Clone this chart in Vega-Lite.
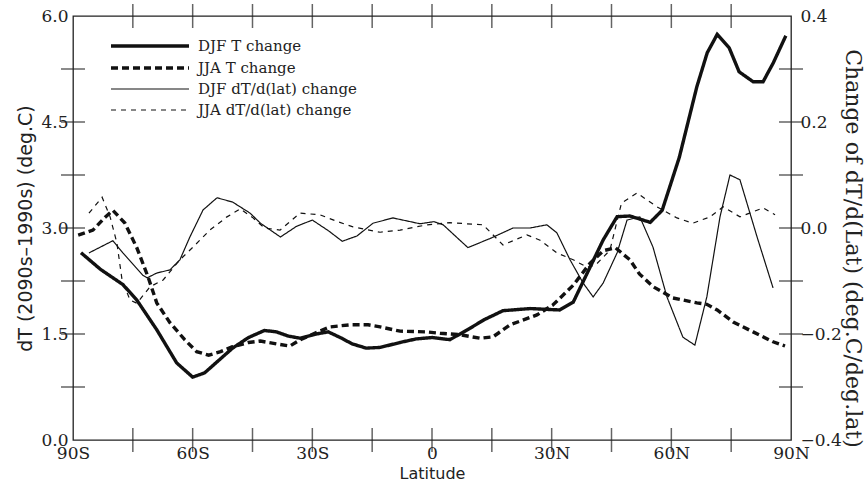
{
  "$schema": "https://vega.github.io/schema/vega-lite/v6.json",
  "width": 718,
  "height": 424,
  "autosize": {"type": "none"},
  "padding": {"left": 73, "top": 16, "right": 75, "bottom": 48},
  "background": "white",
  "config": {
    "view": {"stroke": "#222", "strokeWidth": 1.3},
    "axis": {
      "grid": false,
      "domain": false,
      "labelColor": "#222",
      "labelFont": "DejaVu Serif",
      "labelFontSize": 17,
      "titleColor": "#222",
      "titleFontWeight": "normal"
    }
  },
  "datasets": {
    "xticks": [
      {"lat": -75}, {"lat": -60}, {"lat": -45}, {"lat": -30}, {"lat": -15}, {"lat": 0},
      {"lat": 15}, {"lat": 30}, {"lat": 45}, {"lat": 60}, {"lat": 75}
    ],
    "yticks": [
      {"level": 0.75}, {"level": 1.5}, {"level": 2.25}, {"level": 3}, {"level": 3.75},
      {"level": 4.5}, {"level": 5.25}
    ],
    "temp": [
      {"lat": -88, "value": 2.65, "series": "DJF T change"},
      {"lat": -83, "value": 2.41, "series": "DJF T change"},
      {"lat": -77.5, "value": 2.2, "series": "DJF T change"},
      {"lat": -74, "value": 1.98, "series": "DJF T change"},
      {"lat": -69, "value": 1.56, "series": "DJF T change"},
      {"lat": -64, "value": 1.09, "series": "DJF T change"},
      {"lat": -60, "value": 0.89, "series": "DJF T change"},
      {"lat": -57, "value": 0.95, "series": "DJF T change"},
      {"lat": -53, "value": 1.15, "series": "DJF T change"},
      {"lat": -50, "value": 1.3, "series": "DJF T change"},
      {"lat": -46, "value": 1.45, "series": "DJF T change"},
      {"lat": -42, "value": 1.55, "series": "DJF T change"},
      {"lat": -39, "value": 1.53, "series": "DJF T change"},
      {"lat": -36, "value": 1.47, "series": "DJF T change"},
      {"lat": -33, "value": 1.44, "series": "DJF T change"},
      {"lat": -29, "value": 1.5, "series": "DJF T change"},
      {"lat": -26, "value": 1.53, "series": "DJF T change"},
      {"lat": -23, "value": 1.45, "series": "DJF T change"},
      {"lat": -20, "value": 1.36, "series": "DJF T change"},
      {"lat": -16.5, "value": 1.3, "series": "DJF T change"},
      {"lat": -13, "value": 1.31, "series": "DJF T change"},
      {"lat": -8, "value": 1.38, "series": "DJF T change"},
      {"lat": -4, "value": 1.43, "series": "DJF T change"},
      {"lat": 0, "value": 1.45, "series": "DJF T change"},
      {"lat": 4.5, "value": 1.42, "series": "DJF T change"},
      {"lat": 9.5, "value": 1.58, "series": "DJF T change"},
      {"lat": 13, "value": 1.7, "series": "DJF T change"},
      {"lat": 17.8, "value": 1.83, "series": "DJF T change"},
      {"lat": 24.6, "value": 1.86, "series": "DJF T change"},
      {"lat": 32, "value": 1.84, "series": "DJF T change"},
      {"lat": 35.4, "value": 1.95, "series": "DJF T change"},
      {"lat": 38.9, "value": 2.36, "series": "DJF T change"},
      {"lat": 42.9, "value": 2.83, "series": "DJF T change"},
      {"lat": 46.4, "value": 3.16, "series": "DJF T change"},
      {"lat": 49.6, "value": 3.17, "series": "DJF T change"},
      {"lat": 54.7, "value": 3.08, "series": "DJF T change"},
      {"lat": 57.7, "value": 3.25, "series": "DJF T change"},
      {"lat": 62, "value": 4.0, "series": "DJF T change"},
      {"lat": 66.4, "value": 5.0, "series": "DJF T change"},
      {"lat": 69, "value": 5.48, "series": "DJF T change"},
      {"lat": 71.5, "value": 5.74, "series": "DJF T change"},
      {"lat": 74.5, "value": 5.55, "series": "DJF T change"},
      {"lat": 77, "value": 5.21, "series": "DJF T change"},
      {"lat": 80.5, "value": 5.07, "series": "DJF T change"},
      {"lat": 83, "value": 5.07, "series": "DJF T change"},
      {"lat": 85.5, "value": 5.33, "series": "DJF T change"},
      {"lat": 88.7, "value": 5.72, "series": "DJF T change"},

      {"lat": -88.7, "value": 2.9, "series": "JJA T change"},
      {"lat": -85, "value": 2.97, "series": "JJA T change"},
      {"lat": -82, "value": 3.15, "series": "JJA T change"},
      {"lat": -80, "value": 3.25, "series": "JJA T change"},
      {"lat": -77, "value": 3.07, "series": "JJA T change"},
      {"lat": -74, "value": 2.72, "series": "JJA T change"},
      {"lat": -71.2, "value": 2.31, "series": "JJA T change"},
      {"lat": -69, "value": 1.94, "series": "JJA T change"},
      {"lat": -65.7, "value": 1.66, "series": "JJA T change"},
      {"lat": -62, "value": 1.42, "series": "JJA T change"},
      {"lat": -59, "value": 1.25, "series": "JJA T change"},
      {"lat": -56, "value": 1.2, "series": "JJA T change"},
      {"lat": -53, "value": 1.25, "series": "JJA T change"},
      {"lat": -50, "value": 1.32, "series": "JJA T change"},
      {"lat": -46, "value": 1.38, "series": "JJA T change"},
      {"lat": -43, "value": 1.4, "series": "JJA T change"},
      {"lat": -39, "value": 1.36, "series": "JJA T change"},
      {"lat": -35.6, "value": 1.33, "series": "JJA T change"},
      {"lat": -33, "value": 1.42, "series": "JJA T change"},
      {"lat": -29, "value": 1.52, "series": "JJA T change"},
      {"lat": -25.6, "value": 1.6, "series": "JJA T change"},
      {"lat": -20.6, "value": 1.63, "series": "JJA T change"},
      {"lat": -16, "value": 1.63, "series": "JJA T change"},
      {"lat": -13, "value": 1.6, "series": "JJA T change"},
      {"lat": -8, "value": 1.54, "series": "JJA T change"},
      {"lat": -1.3, "value": 1.53, "series": "JJA T change"},
      {"lat": 2, "value": 1.51, "series": "JJA T change"},
      {"lat": 7, "value": 1.49, "series": "JJA T change"},
      {"lat": 12, "value": 1.44, "series": "JJA T change"},
      {"lat": 15.3, "value": 1.46, "series": "JJA T change"},
      {"lat": 19.6, "value": 1.63, "series": "JJA T change"},
      {"lat": 26.3, "value": 1.77, "series": "JJA T change"},
      {"lat": 30.3, "value": 1.91, "series": "JJA T change"},
      {"lat": 35.4, "value": 2.19, "series": "JJA T change"},
      {"lat": 39.6, "value": 2.5, "series": "JJA T change"},
      {"lat": 43, "value": 2.68, "series": "JJA T change"},
      {"lat": 46, "value": 2.72, "series": "JJA T change"},
      {"lat": 49.6, "value": 2.55, "series": "JJA T change"},
      {"lat": 52, "value": 2.35, "series": "JJA T change"},
      {"lat": 55.4, "value": 2.17, "series": "JJA T change"},
      {"lat": 60.4, "value": 2.01, "series": "JJA T change"},
      {"lat": 66.4, "value": 1.94, "series": "JJA T change"},
      {"lat": 68.9, "value": 1.92, "series": "JJA T change"},
      {"lat": 71.5, "value": 1.84, "series": "JJA T change"},
      {"lat": 75.5, "value": 1.67, "series": "JJA T change"},
      {"lat": 80.5, "value": 1.53, "series": "JJA T change"},
      {"lat": 85.5, "value": 1.39, "series": "JJA T change"},
      {"lat": 88.5, "value": 1.33, "series": "JJA T change"}
    ],
    "grad": [
      {"lat": -86, "value": -0.047, "series": "DJF dT/d(lat) change"},
      {"lat": -80, "value": -0.024, "series": "DJF dT/d(lat) change"},
      {"lat": -77.5, "value": -0.047, "series": "DJF dT/d(lat) change"},
      {"lat": -72.5, "value": -0.089, "series": "DJF dT/d(lat) change"},
      {"lat": -71.4, "value": -0.094, "series": "DJF dT/d(lat) change"},
      {"lat": -69, "value": -0.085, "series": "DJF dT/d(lat) change"},
      {"lat": -65.7, "value": -0.079, "series": "DJF dT/d(lat) change"},
      {"lat": -63.2, "value": -0.06, "series": "DJF dT/d(lat) change"},
      {"lat": -60.7, "value": -0.017, "series": "DJF dT/d(lat) change"},
      {"lat": -57.4, "value": 0.034, "series": "DJF dT/d(lat) change"},
      {"lat": -53.9, "value": 0.057, "series": "DJF dT/d(lat) change"},
      {"lat": -50, "value": 0.049, "series": "DJF dT/d(lat) change"},
      {"lat": -45.6, "value": 0.028, "series": "DJF dT/d(lat) change"},
      {"lat": -43, "value": 0.009, "series": "DJF dT/d(lat) change"},
      {"lat": -38, "value": -0.017, "series": "DJF dT/d(lat) change"},
      {"lat": -34, "value": 0.003, "series": "DJF dT/d(lat) change"},
      {"lat": -30, "value": 0.015, "series": "DJF dT/d(lat) change"},
      {"lat": -26, "value": -0.005, "series": "DJF dT/d(lat) change"},
      {"lat": -22.5, "value": -0.025, "series": "DJF dT/d(lat) change"},
      {"lat": -18.8, "value": -0.015, "series": "DJF dT/d(lat) change"},
      {"lat": -14.8, "value": 0.009, "series": "DJF dT/d(lat) change"},
      {"lat": -9.8, "value": 0.019, "series": "DJF dT/d(lat) change"},
      {"lat": -3, "value": 0.008, "series": "DJF dT/d(lat) change"},
      {"lat": 0.5, "value": 0.012, "series": "DJF dT/d(lat) change"},
      {"lat": 2.8, "value": 0.006, "series": "DJF dT/d(lat) change"},
      {"lat": 9, "value": -0.037, "series": "DJF dT/d(lat) change"},
      {"lat": 14.5, "value": -0.02, "series": "DJF dT/d(lat) change"},
      {"lat": 20.3, "value": 0.0, "series": "DJF dT/d(lat) change"},
      {"lat": 24.6, "value": 0.0, "series": "DJF dT/d(lat) change"},
      {"lat": 28.8, "value": 0.006, "series": "DJF dT/d(lat) change"},
      {"lat": 31.3, "value": -0.009, "series": "DJF dT/d(lat) change"},
      {"lat": 34.6, "value": -0.06, "series": "DJF dT/d(lat) change"},
      {"lat": 37.9, "value": -0.104, "series": "DJF dT/d(lat) change"},
      {"lat": 40.4, "value": -0.13, "series": "DJF dT/d(lat) change"},
      {"lat": 42.9, "value": -0.104, "series": "DJF dT/d(lat) change"},
      {"lat": 46.4, "value": -0.047, "series": "DJF dT/d(lat) change"},
      {"lat": 48.9, "value": 0.015, "series": "DJF dT/d(lat) change"},
      {"lat": 52.1, "value": 0.021, "series": "DJF dT/d(lat) change"},
      {"lat": 55.4, "value": -0.036, "series": "DJF dT/d(lat) change"},
      {"lat": 58.9, "value": -0.13, "series": "DJF dT/d(lat) change"},
      {"lat": 62.9, "value": -0.206, "series": "DJF dT/d(lat) change"},
      {"lat": 65.9, "value": -0.221, "series": "DJF dT/d(lat) change"},
      {"lat": 68.9, "value": -0.13, "series": "DJF dT/d(lat) change"},
      {"lat": 72.2, "value": 0.021, "series": "DJF dT/d(lat) change"},
      {"lat": 74.7, "value": 0.1, "series": "DJF dT/d(lat) change"},
      {"lat": 77.2, "value": 0.091, "series": "DJF dT/d(lat) change"},
      {"lat": 81.5, "value": -0.017, "series": "DJF dT/d(lat) change"},
      {"lat": 85.5, "value": -0.113, "series": "DJF dT/d(lat) change"},

      {"lat": -86, "value": 0.028, "series": "JJA dT/d(lat) change"},
      {"lat": -82.7, "value": 0.058, "series": "JJA dT/d(lat) change"},
      {"lat": -80.7, "value": 0.021, "series": "JJA dT/d(lat) change"},
      {"lat": -79, "value": -0.028, "series": "JJA dT/d(lat) change"},
      {"lat": -77.7, "value": -0.098, "series": "JJA dT/d(lat) change"},
      {"lat": -75.7, "value": -0.136, "series": "JJA dT/d(lat) change"},
      {"lat": -74, "value": -0.142, "series": "JJA dT/d(lat) change"},
      {"lat": -70.7, "value": -0.111, "series": "JJA dT/d(lat) change"},
      {"lat": -67.4, "value": -0.098, "series": "JJA dT/d(lat) change"},
      {"lat": -63.2, "value": -0.06, "series": "JJA dT/d(lat) change"},
      {"lat": -59.9, "value": -0.036, "series": "JJA dT/d(lat) change"},
      {"lat": -55.7, "value": -0.004, "series": "JJA dT/d(lat) change"},
      {"lat": -51.4, "value": 0.021, "series": "JJA dT/d(lat) change"},
      {"lat": -48.1, "value": 0.036, "series": "JJA dT/d(lat) change"},
      {"lat": -45, "value": 0.02, "series": "JJA dT/d(lat) change"},
      {"lat": -42, "value": 0.0, "series": "JJA dT/d(lat) change"},
      {"lat": -38.1, "value": -0.004, "series": "JJA dT/d(lat) change"},
      {"lat": -33.1, "value": 0.028, "series": "JJA dT/d(lat) change"},
      {"lat": -28.1, "value": 0.025, "series": "JJA dT/d(lat) change"},
      {"lat": -24, "value": 0.013, "series": "JJA dT/d(lat) change"},
      {"lat": -19.8, "value": 0.002, "series": "JJA dT/d(lat) change"},
      {"lat": -13, "value": -0.008, "series": "JJA dT/d(lat) change"},
      {"lat": -8, "value": -0.004, "series": "JJA dT/d(lat) change"},
      {"lat": -1.3, "value": 0.006, "series": "JJA dT/d(lat) change"},
      {"lat": 4.5, "value": 0.01, "series": "JJA dT/d(lat) change"},
      {"lat": 12.8, "value": 0.006, "series": "JJA dT/d(lat) change"},
      {"lat": 17.8, "value": -0.032, "series": "JJA dT/d(lat) change"},
      {"lat": 23.8, "value": -0.013, "series": "JJA dT/d(lat) change"},
      {"lat": 27.1, "value": -0.023, "series": "JJA dT/d(lat) change"},
      {"lat": 31.3, "value": -0.047, "series": "JJA dT/d(lat) change"},
      {"lat": 35.4, "value": -0.06, "series": "JJA dT/d(lat) change"},
      {"lat": 38.9, "value": -0.074, "series": "JJA dT/d(lat) change"},
      {"lat": 41, "value": -0.07, "series": "JJA dT/d(lat) change"},
      {"lat": 44.6, "value": -0.042, "series": "JJA dT/d(lat) change"},
      {"lat": 47.5, "value": 0.047, "series": "JJA dT/d(lat) change"},
      {"lat": 51.4, "value": 0.066, "series": "JJA dT/d(lat) change"},
      {"lat": 56.4, "value": 0.04, "series": "JJA dT/d(lat) change"},
      {"lat": 61.4, "value": 0.019, "series": "JJA dT/d(lat) change"},
      {"lat": 65.4, "value": 0.009, "series": "JJA dT/d(lat) change"},
      {"lat": 69.7, "value": 0.021, "series": "JJA dT/d(lat) change"},
      {"lat": 73, "value": 0.04, "series": "JJA dT/d(lat) change"},
      {"lat": 77.2, "value": 0.021, "series": "JJA dT/d(lat) change"},
      {"lat": 83, "value": 0.038, "series": "JJA dT/d(lat) change"},
      {"lat": 86, "value": 0.025, "series": "JJA dT/d(lat) change"}
    ]
  },
  "layer": [
    {
      "data": {"name": "temp"},
      "mark": {"type": "line", "color": "#111", "clip": true},
      "encoding": {
        "x": {
          "field": "lat", "type": "quantitative",
          "scale": {"domain": [-90, 90], "nice": false, "zero": false},
          "axis": {
            "orient": "bottom",
            "values": [-90, -60, -30, 0, 30, 60, 90],
            "labelExpr": "datum.value === 0 ? '0' : (datum.value < 0 ? (-datum.value) + 'S' : datum.value + 'N')",
            "ticks": false,
            "labelPadding": 5,
            "labelFlush": false,
            "labelOverlap": false,
            "title": "Latitude",
            "titleFont": "DejaVu Sans",
            "titleFontSize": 16,
            "titlePadding": 4
          }
        },
        "y": {
          "field": "value", "type": "quantitative",
          "scale": {"domain": [0, 6], "nice": false},
          "axis": {
            "orient": "left",
            "values": [0, 1.5, 3, 4.5, 6],
            "format": ".1f",
            "ticks": false,
            "labelPadding": 5,
            "labelFlush": false,
            "labelOverlap": false,
            "title": "dT (2090s–1990s) (deg.C)",
            "titleFont": "DejaVu Sans",
            "titleFontSize": 19,
            "titlePadding": 5
          }
        },
        "strokeDash": {
          "field": "series", "type": "nominal",
          "scale": {
            "domain": ["DJF T change", "JJA T change", "DJF dT/d(lat) change", "JJA dT/d(lat) change"],
            "range": [[1, 0], [7, 4], [1, 0], [5, 5]]
          },
          "legend": {
            "orient": "none", "legendX": 65, "legendY": 18,
            "title": null,
            "symbolType": "M-3.9,0H3.9",
            "symbolSize": 400,
            "symbolStrokeColor": "#111",
            "padding": 0, "rowPadding": 2,
            "labelFont": "DejaVu Serif", "labelFontSize": 15, "labelColor": "#222",
            "labelOffset": 36,
            "encode": {
              "symbols": {
                "update": {
                  "strokeWidth": {"signal": "indexof(['DJF T change','JJA T change'], datum.value) >= 0 ? 3.4 : 1.2"}
                }
              }
            }
          }
        },
        "strokeWidth": {
          "field": "series", "type": "nominal",
          "scale": {
            "type": "ordinal",
            "domain": ["DJF T change", "JJA T change", "DJF dT/d(lat) change", "JJA dT/d(lat) change"],
            "range": [3.4, 3.4, 1.2, 1.2]
          },
          "legend": null
        }
      }
    },
    {
      "data": {"name": "grad"},
      "mark": {"type": "line", "color": "#111", "clip": true},
      "encoding": {
        "x": {
          "field": "lat", "type": "quantitative",
          "scale": {"domain": [-90, 90], "nice": false, "zero": false},
          "axis": null
        },
        "y": {
          "field": "value", "type": "quantitative",
          "scale": {"domain": [-0.4, 0.4], "nice": false, "zero": false},
          "axis": {
            "orient": "right",
            "values": [-0.4, -0.2, 0, 0.2, 0.4],
            "format": ".1f",
            "ticks": false,
            "labelPadding": 9,
            "labelFlush": false,
            "labelOverlap": false,
            "title": "Change of dT/d(Lat) (deg.C/deg.lat)",
            "titleFont": "DejaVu Serif",
            "titleFontSize": 22,
            "titlePadding": -1,
            "titleY": 232
          }
        },
        "strokeDash": {
          "field": "series", "type": "nominal",
          "scale": {
            "domain": ["DJF T change", "JJA T change", "DJF dT/d(lat) change", "JJA dT/d(lat) change"],
            "range": [[1, 0], [7, 4], [1, 0], [5, 5]]
          },
          "legend": null
        },
        "strokeWidth": {
          "field": "series", "type": "nominal",
          "scale": {
            "type": "ordinal",
            "domain": ["DJF T change", "JJA T change", "DJF dT/d(lat) change", "JJA dT/d(lat) change"],
            "range": [3.4, 3.4, 1.2, 1.2]
          },
          "legend": null
        }
      }
    },
    {
      "data": {"name": "xticks"},
      "mark": {"type": "tick", "color": "#222", "orient": "vertical", "size": 24, "thickness": 1.5},
      "encoding": {
        "x": {"field": "lat", "type": "quantitative", "axis": null},
        "y": {"datum": 0, "type": "quantitative", "scale": {"domain": [0, 6], "nice": false}, "axis": null}
      }
    },
    {
      "data": {"name": "xticks"},
      "mark": {"type": "tick", "color": "#222", "orient": "vertical", "size": 24, "thickness": 1.5},
      "encoding": {
        "x": {"field": "lat", "type": "quantitative", "axis": null},
        "y": {"datum": 6, "type": "quantitative", "scale": {"domain": [0, 6], "nice": false}, "axis": null}
      }
    },
    {
      "data": {"name": "yticks"},
      "mark": {"type": "tick", "color": "#222", "orient": "horizontal", "size": 24, "thickness": 1.5},
      "encoding": {
        "y": {"field": "level", "type": "quantitative", "scale": {"domain": [0, 6], "nice": false}, "axis": null},
        "x": {"datum": -90, "type": "quantitative", "axis": null}
      }
    },
    {
      "data": {"name": "yticks"},
      "mark": {"type": "tick", "color": "#222", "orient": "horizontal", "size": 24, "thickness": 1.5},
      "encoding": {
        "y": {"field": "level", "type": "quantitative", "scale": {"domain": [0, 6], "nice": false}, "axis": null},
        "x": {"datum": 90, "type": "quantitative", "axis": null}
      }
    }
  ],
  "resolve": {
    "scale": {"y": "independent"},
    "axis": {"x": "independent", "y": "independent"}
  }
}
